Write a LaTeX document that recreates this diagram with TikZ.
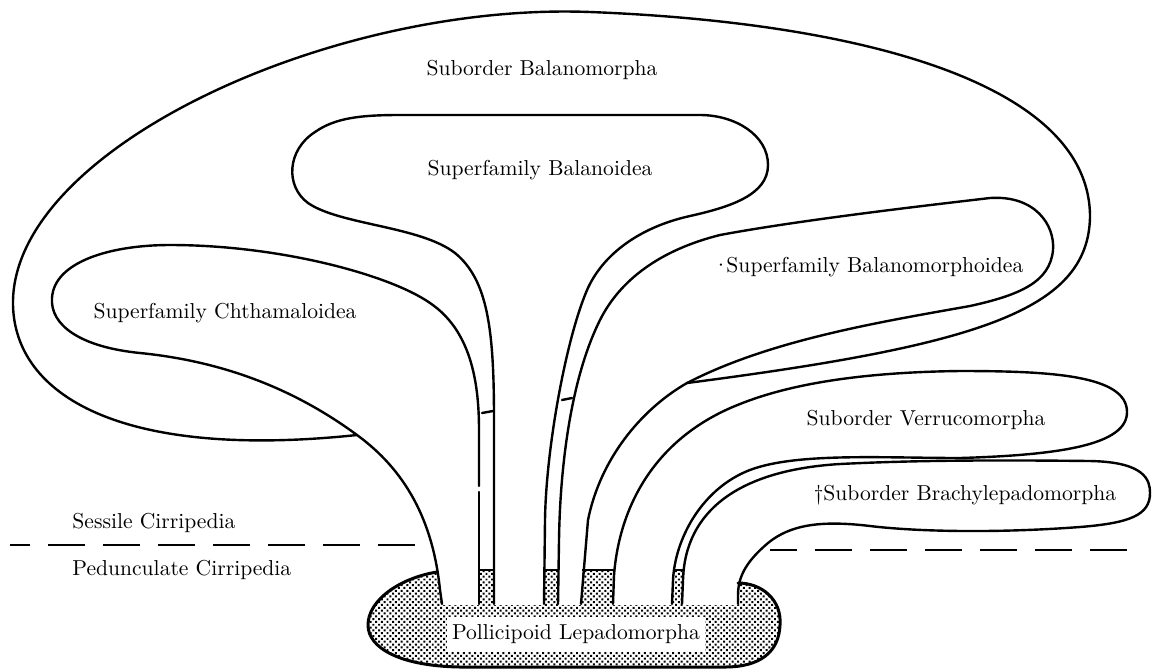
\documentclass[tikz,border=0pt]{standalone}
\usetikzlibrary{patterns.meta}
\tikzset{
  outline/.style={line width=1.2pt, line join=round, line cap=round},
  lbl/.style={font=\fontsize{10.8}{13}\selectfont, inner sep=0pt},
  dashline/.style={line width=1.4pt, dash pattern=on 18.5pt off 9pt},
  basefill/.style={pattern={Dots[distance=2pt,radius=0.7pt,angle=45]}},
  baseline/.style={line width=1.5pt, line join=round, line cap=round},
  gapline/.style={line width=0.8pt},
}
\begin{document}
\begin{tikzpicture}[x=0.5pt,y=-0.5pt]
\useasboundingbox (0,0) rectangle (1154,670);
\fill[white] (0,0) rectangle (1154,670);

% base (Pollicipoid Lepadomorpha)
\path[basefill] (437,571) -- (738,571) -- (738,583) .. controls (762,583) and (782,600) .. (780,625)
  .. controls (779,652) and (760,667) .. (725,667) -- (460,667)
  .. controls (400,666) and (368,648) .. (368,625) .. controls (368,600) and (400,578) .. (437,571) -- cycle;
% white stalk bottoms
\fill[white] (435,560) -- (479,560) -- (479,605) -- (441,605) -- cycle;
\fill[white] (494,560) -- (545,560) -- (544,605) -- (494,605) -- cycle;
\fill[white] (559,560) -- (583,560) -- (581,605) -- (558,605) -- cycle;
\fill[white] (616,566) -- (675,566) -- (672,605) -- (613,605) -- cycle;
\fill[white] (685,566) -- (741,566) -- (738,605) -- (682,605) -- cycle;
\draw[baseline] (437,572) .. controls (400,578) and (368,600) .. (368,625)
  .. controls (368,648) and (400,666) .. (460,667) -- (725,667)
  .. controls (760,667) and (779,652) .. (780,625) .. controls (782,600) and (762,583) .. (738,583);
\draw[gapline] (479,570) -- (494,570);
\draw[gapline] (545,570) -- (559,570);
\draw[gapline] (582,570) -- (615,570);
\draw[gapline] (674,570) -- (684,570);
\node[lbl, fill=white, minimum width=129pt, minimum height=17.5pt] (base) at (576,634) {Pollicipoid Lepadomorpha};

% Suborder Balanomorpha (outer envelope)
\draw[outline] (687,383) .. controls (980,345) and (1088,310) .. (1090,217)
  .. controls (1090,80) and (850,22) .. (590,12)
  .. controls (330,2) and (10,150) .. (13,305)
  .. controls (15,395) and (120,460) .. (357,435);

% Superfamily Chthamaloidea
\draw[outline] (442,604) -- (440,590) .. controls (433,520) and (405,470) .. (357,435)
  .. controls (300,393) and (230,362) .. (140,353)
  .. controls (80,347) and (50,325) .. (52,298)
  .. controls (54,262) and (110,245) .. (170,245)
  .. controls (280,245) and (390,275) .. (430,303)
  .. controls (470,330) and (479,380) .. (479,430) -- (479,486);
\draw[outline] (479,492) -- (479,604);

% Superfamily Balanoidea
\draw[outline] (494,604) -- (494,420) .. controls (494,330) and (488,280) .. (455,253)
  .. controls (420,226) and (340,225) .. (308,203)
  .. controls (285,186) and (287,150) .. (315,132)
  .. controls (335,118) and (360,115) .. (400,115) -- (700,115)
  .. controls (735,115) and (768,135) .. (768,165)
  .. controls (768,195) and (730,207) .. (690,216)
  .. controls (640,227) and (600,255) .. (585,295)
  .. controls (565,345) and (546,450) .. (545,520) -- (544,604);

% Superfamily Balanomorphoidea
\draw[outline] (558,604) -- (559,540) .. controls (560,470) and (570,380) .. (600,320)
  .. controls (620,280) and (660,250) .. (720,235)
  .. controls (800,220) and (930,205) .. (990,198)
  .. controls (1035,195) and (1055,225) .. (1053,250)
  .. controls (1050,282) and (1020,295) .. (970,306)
  .. controls (880,322) and (770,340) .. (687,383)
  .. controls (640,410) and (600,460) .. (588,520) -- (581,604);

% Suborder Verrucomorpha
\draw[outline] (613,604) -- (614,575) .. controls (620,500) and (660,435) .. (740,404)
  .. controls (800,380) and (880,372) .. (960,371)
  .. controls (1050,371) and (1127,375) .. (1127,412)
  .. controls (1127,445) and (1060,455) .. (960,458)
  .. controls (880,458) and (790,452) .. (745,472)
  .. controls (700,492) and (675,540) .. (673,580) -- (672,604);

% Suborder Brachylepadomorpha
\draw[outline] (682,604) -- (683,580) .. controls (685,510) and (740,470) .. (840,464)
  .. controls (920,460) and (1000,460) .. (1090,461)
  .. controls (1145,462) and (1150,480) .. (1150,493)
  .. controls (1150,515) and (1130,523) .. (1080,527)
  .. controls (1000,533) and (920,532) .. (870,526)
  .. controls (820,520) and (790,525) .. (768,543)
  .. controls (748,560) and (738,575) .. (738,595) -- (738,604);

% ticks
\draw[outline] (482,413) -- (493,411);
\draw[outline] (562,400) -- (572,398);

% dashed divider
\draw[dashline, dash phase=8.5pt] (10,545) -- (418,545);
\draw[dashline, dash phase=5pt] (770,550) -- (1137,550);

% labels
\node[lbl] (bal) at (542,70) {Suborder Balanomorpha};
\node[lbl] (balnoid) at (540,170) {Superfamily Balanoidea};
\node[lbl] (chth) at (225,313) {Superfamily Chthamaloidea};
\node[lbl] (bmph) at (868,267) {·\kern-1.5pt Superfamily Balanomorphoidea};
\node[lbl] (verr) at (926,420) {Suborder Verrucomorpha};
\node[lbl] (brach) at (965,495) {\textdagger Suborder Brachylepadomorpha};
\node[lbl, anchor=west] (sess) at (72,523) {Sessile Cirripedia};
\node[lbl, anchor=west] (ped) at (72,570) {Pedunculate Cirripedia};
\end{tikzpicture}
\end{document}
